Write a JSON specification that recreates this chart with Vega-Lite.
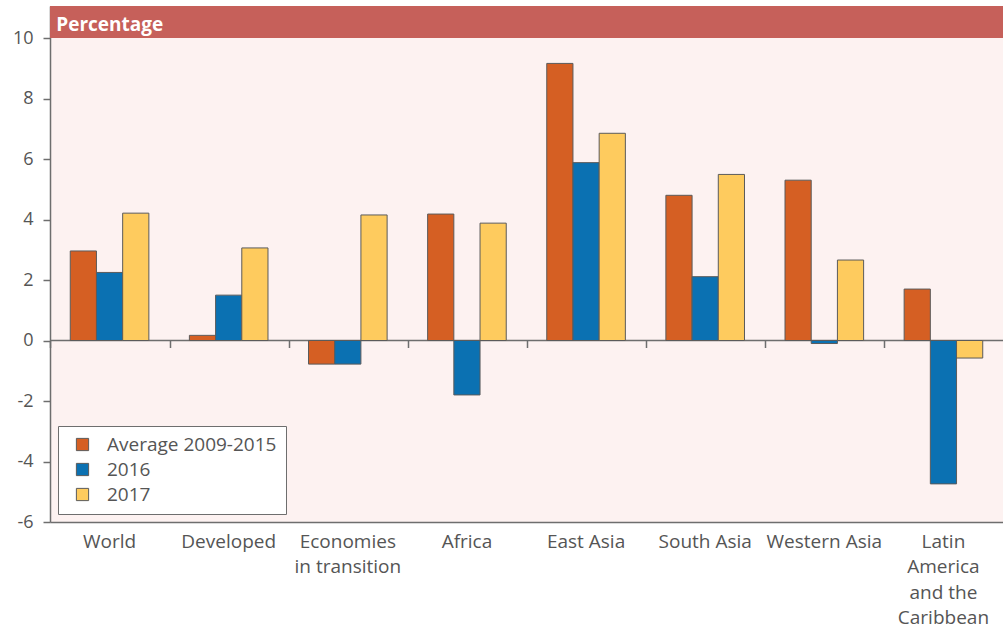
{
  "$schema": "https://vega.github.io/schema/vega-lite/v6.json",
  "width": 953,
  "height": 516,
  "autosize": {"type": "none"},
  "padding": {"left": 50, "top": 6, "right": 0, "bottom": 110},
  "background": "white",
  "config": {
    "view": {"fill": "#FDF2F1", "stroke": null},
    "font": "Open Sans"
  },
  "resolve": {"axis": {"x": "independent"}},
  "data": {
    "values": [
      {"region": "World", "series": "Average 2009-2015", "value": 2.96},
      {"region": "World", "series": "2016", "value": 2.25},
      {"region": "World", "series": "2017", "value": 4.21},
      {"region": "Developed", "series": "Average 2009-2015", "value": 0.17},
      {"region": "Developed", "series": "2016", "value": 1.5},
      {"region": "Developed", "series": "2017", "value": 3.06},
      {"region": "Economies|in transition", "series": "Average 2009-2015", "value": -0.78},
      {"region": "Economies|in transition", "series": "2016", "value": -0.78},
      {"region": "Economies|in transition", "series": "2017", "value": 4.15},
      {"region": "Africa", "series": "Average 2009-2015", "value": 4.18},
      {"region": "Africa", "series": "2016", "value": -1.8},
      {"region": "Africa", "series": "2017", "value": 3.88},
      {"region": "East Asia", "series": "Average 2009-2015", "value": 9.16},
      {"region": "East Asia", "series": "2016", "value": 5.88},
      {"region": "East Asia", "series": "2017", "value": 6.85},
      {"region": "South Asia", "series": "Average 2009-2015", "value": 4.8},
      {"region": "South Asia", "series": "2016", "value": 2.11},
      {"region": "South Asia", "series": "2017", "value": 5.49},
      {"region": "Western Asia", "series": "Average 2009-2015", "value": 5.3},
      {"region": "Western Asia", "series": "2016", "value": -0.1},
      {"region": "Western Asia", "series": "2017", "value": 2.66},
      {"region": "Latin|America|and the|Caribbean", "series": "Average 2009-2015", "value": 1.7},
      {"region": "Latin|America|and the|Caribbean", "series": "2016", "value": -4.74},
      {"region": "Latin|America|and the|Caribbean", "series": "2017", "value": -0.58}
    ]
  },
  "layer": [
    {
      "data": {"values": [{"band": "header"}]},
      "mark": {"type": "rect", "fill": "#C6605A"},
      "encoding": {
        "y": {"datum": 10},
        "y2": {"datum": 11.058}
      }
    },
    {
      "data": {"values": [{"band": "zero"}]},
      "mark": {"type": "rule", "color": "#6E6E6E", "strokeWidth": 1.5},
      "encoding": {"y": {"datum": 0}}
    },
    {
      "mark": {"type": "point", "opacity": 0},
      "encoding": {
        "x": {
          "field": "region",
          "type": "nominal",
          "axis": {
            "orient": "bottom",
            "offset": -181.5,
            "title": null,
            "labels": false,
            "domain": false,
            "ticks": true,
            "bandPosition": -0.245,
            "tickSize": 7,
            "tickColor": "#6E6E6E",
            "tickWidth": 1.5,
            "grid": false
          }
        },
        "y": {"field": "value", "type": "quantitative"}
      }
    },
    {
      "mark": {"type": "bar", "stroke": "#5B5B5B", "strokeWidth": 1},
      "encoding": {
        "x": {
          "field": "region",
          "type": "nominal",
          "sort": null,
          "scale": {
            "domain": ["World", "Developed", "Economies|in transition", "Africa", "East Asia", "South Asia", "Western Asia", "Latin|America|and the|Caribbean"],
            "paddingInner": 0.34,
            "paddingOuter": 0.17
          },
          "axis": {
            "orient": "bottom",
            "title": null,
            "labelAngle": 0,
            "ticks": false,
            "labelExpr": "split(datum.label, '|')",
            "labelFontSize": 19,
            "labelColor": "#555555",
            "labelPadding": 10,
            "labelLineHeight": 25.5,
            "labelBaseline": "top",
            "domainColor": "#6E6E6E",
            "domainWidth": 1.5
          }
        },
        "xOffset": {
          "field": "series",
          "type": "nominal",
          "scale": {"domain": ["Average 2009-2015", "2016", "2017"], "paddingInner": 0, "paddingOuter": 0}
        },
        "y": {
          "field": "value",
          "type": "quantitative",
          "scale": {"domain": [-6, 11.058], "nice": false, "zero": false},
          "axis": {
            "title": null,
            "values": [-6, -4, -2, 0, 2, 4, 6, 8, 10],
            "labelExpr": "'' + datum.value",
            "grid": false,
            "tickSize": 7,
            "tickColor": "#6E6E6E",
            "tickWidth": 1.5,
            "labelFontSize": 18,
            "labelColor": "#555555",
            "labelPadding": 10,
            "domainColor": "#6E6E6E",
            "domainWidth": 1.5
          }
        },
        "color": {
          "field": "series",
          "type": "nominal",
          "scale": {
            "domain": ["Average 2009-2015", "2016", "2017"],
            "range": ["#D55F23", "#0B71B2", "#FECB5E"]
          },
          "legend": {
            "title": null,
            "orient": "bottom-left",
            "offset": 8,
            "fillColor": "white",
            "strokeColor": "#6E6E6E",
            "padding": 9,
            "symbolType": "square",
            "symbolSize": 150,
            "symbolOffset": 6,
            "symbolStrokeColor": "#5B5B5B",
            "symbolStrokeWidth": 1,
            "labelFontSize": 19,
            "labelColor": "#555555",
            "labelOffset": 15,
            "labelLimit": 0,
            "rowPadding": 5
          }
        }
      }
    },
    {
      "data": {"values": [{"label": "Percentage"}]},
      "mark": {"type": "text", "align": "left", "baseline": "alphabetic", "dx": -14, "color": "white", "fontSize": 19, "fontWeight": "bold", "font": "Open Sans"},
      "encoding": {
        "x": {"datum": "World", "bandPosition": 0, "axis": null},
        "y": {"datum": 10.23},
        "text": {"field": "label"}
      }
    }
  ]
}
